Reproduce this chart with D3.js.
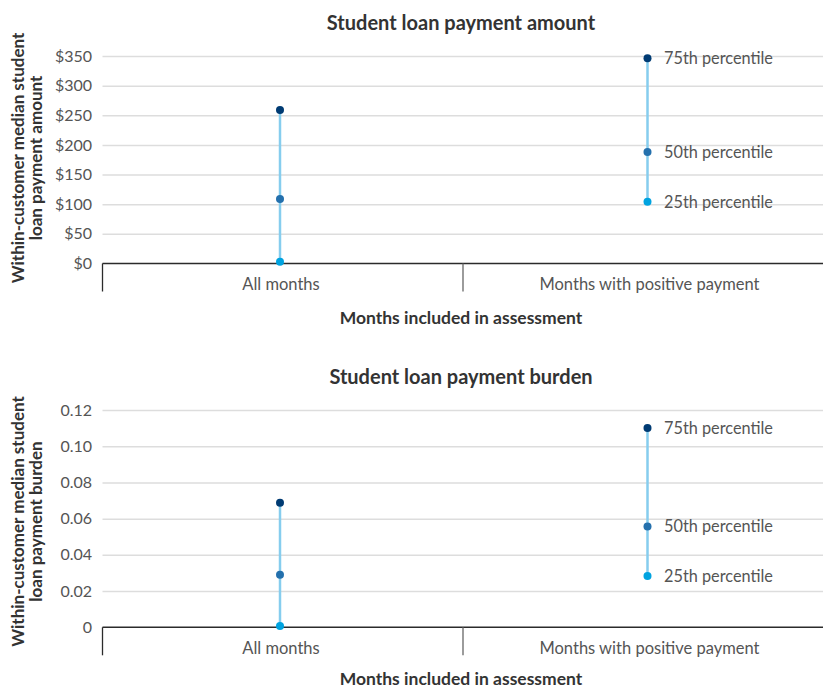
<!DOCTYPE html>
<html>
<head>
<meta charset="utf-8">
<script src="https://cdn.jsdelivr.net/npm/d3@7"></script>
<style>
  html, body { margin: 0; padding: 0; background: #fff; }
  svg { display: block; }
  text { font-family: Lato, "Noto Sans", sans-serif; }
</style>
</head>
<body>
<svg id="chart" width="823" height="690"></svg>
<script>
// ---------- data ----------
const categories = ["All months", "Months with positive payment"];
const percentileLabels = ["25th percentile", "50th percentile", "75th percentile"];

const amountP25 = [3, 104];
const amountP50 = [109, 188];
const amountP75 = [259, 346];
const amountTicks = [0, 50, 100, 150, 200, 250, 300, 350];

const burdenP25 = [0.0007, 0.0283];
const burdenP50 = [0.029, 0.0556];
const burdenP75 = [0.0688, 0.110];
const burdenTicks = [0, 0.02, 0.04, 0.06, 0.08, 0.10, 0.12];

const panelTitles = ["Student loan payment amount", "Student loan payment burden"];
const yTitles = [
  ["Within-customer median student", "loan payment amount"],
  ["Within-customer median student", "loan payment burden"]
];
const xTitle = "Months included in assessment";

// ---------- styling ----------
const colors = ["#00a3e0", "#2470ad", "#003b73"];
const stemColor = "#86cdee";

const svg = d3.select("#chart");

const panels = [
  { p25: amountP25, p50: amountP50, p75: amountP75, ticks: amountTicks,
    domain: [0, 350], yRange: [263.5, 56], fmt: d => "$" + d,
    titleY: 30, catY: 290, xTitleY: 324, yTitleCenter: 158 },
  { p25: burdenP25, p50: burdenP50, p75: burdenP75, ticks: burdenTicks,
    domain: [0, 0.12], yRange: [627.3, 410], fmt: d => d === 0 ? "0" : d3.format(".2f")(d),
    titleY: 384, catY: 654, xTitleY: 685, yTitleCenter: 521.5 }
];

const left = 102.5, right = 823.5;
const xBand = d3.scaleBand().domain(categories).range([left, right]).padding(0);
const xPt = d3.scalePoint().domain(categories).range([280, 647.5]);

panels.forEach((P, pi) => {
  const g = svg.append("g");
  const y = d3.scaleLinear().domain(P.domain).range(P.yRange);

  // gridlines + tick labels via axis
  const yAxis = d3.axisLeft(y).tickValues(P.ticks).tickFormat(P.fmt)
    .tickSize(-(right - left)).tickPadding(10);
  const ya = g.append("g").attr("transform", `translate(${left},0)`).call(yAxis);
  ya.select(".domain").remove();
  ya.selectAll(".tick line").attr("stroke", "#dddddd").attr("stroke-width", 1.5)
    .filter(d => d === 0).remove();
  ya.selectAll(".tick text").attr("fill", "#555").attr("font-size", 16)
    .attr("x", -10.5);

  // x axis baseline
  const y0 = y(0);
  g.append("line").attr("x1", left).attr("x2", right).attr("y1", y0).attr("y2", y0)
    .attr("stroke", "#2b2b2b").attr("stroke-width", 1.5);
  // band boundary ticks
  const bounds = [left, xBand(categories[1])];
  g.selectAll(".bnd").data(bounds).enter().append("line")
    .attr("x1", d => d).attr("x2", d => d).attr("y1", y0).attr("y2", y0 + 28)
    .attr("stroke", d => d === left ? "#2b2b2b" : "#666").attr("stroke-width", 1.3);

  // category labels
  g.selectAll(".cat").data(categories).enter().append("text")
    .attr("x", (d, i) => i === 0 ? xPt(d) + 1 : xPt(d) + 2)
    .attr("y", P.catY).attr("text-anchor", "middle")
    .attr("fill", "#555").attr("font-size", 16.5).text(d => d);

  // stems
  g.selectAll(".stem").data(categories).enter().append("line")
    .attr("x1", d => xPt(d)).attr("x2", d => xPt(d))
    .attr("y1", (d, i) => y(P.p25[i])).attr("y2", (d, i) => y(P.p75[i]))
    .attr("stroke", stemColor).attr("stroke-width", 2.5);

  // dots
  const series = [P.p25, P.p50, P.p75];
  series.forEach((vals, si) => {
    g.selectAll(".dot" + si).data(categories).enter().append("circle")
      .attr("cx", d => xPt(d)).attr("cy", (d, i) => y(vals[i]))
      .attr("r", 4).attr("fill", colors[si]);
  });

  // percentile labels on second category
  const ci = 1;
  series.forEach((vals, si) => {
    g.append("text").attr("x", xPt(categories[ci]) + 16.5).attr("y", y(vals[ci]))
      .attr("dy", "0.35em").attr("fill", "#555").attr("font-size", 16.3)
      .text(percentileLabels[si]);
  });

  // panel title
  g.append("text").attr("x", 461).attr("y", P.titleY).attr("text-anchor", "middle")
    .attr("fill", "#333").attr("font-size", 20).attr("font-weight", 700)
    .text(panelTitles[pi]);

  // x title
  g.append("text").attr("x", 461).attr("y", P.xTitleY).attr("text-anchor", "middle")
    .attr("fill", "#333").attr("font-size", 17.5).attr("font-weight", 700)
    .text(xTitle);

  // y title (rotated, two lines)
  const yt = g.append("text")
    .attr("transform", `translate(24,${P.yTitleCenter}) rotate(-90)`)
    .attr("text-anchor", "middle").attr("fill", "#333")
    .attr("font-size", 17).attr("font-weight", 700);
  yTitles[pi].forEach((line, li) => {
    yt.append("tspan").attr("x", 0).attr("y", li * 18).text(line);
  });
});
</script>
</body>
</html>
